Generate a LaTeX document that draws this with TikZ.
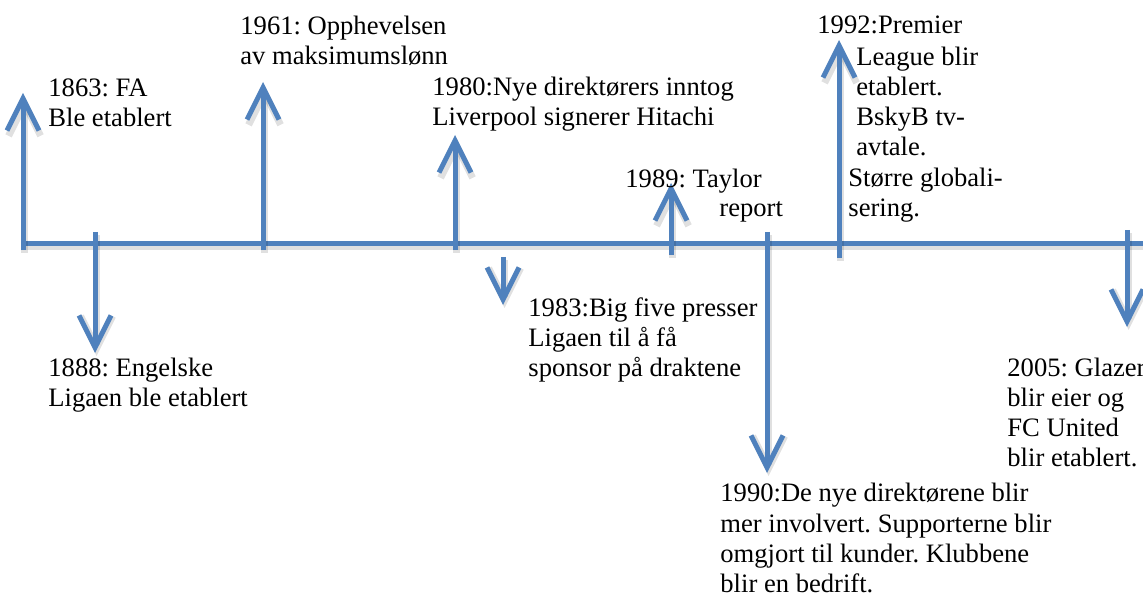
\documentclass[tikz,border=0pt]{standalone}
\usepackage{fontspec}
\setmainfont{Liberation Serif}
\usetikzlibrary{arrows.meta}
\definecolor{tlblue}{HTML}{4F81BD}
\newcommand{\tllines}[1]{\begin{tabular}[t]{@{}l@{}}#1\end{tabular}}
\frenchspacing
\begin{document}
\begin{tikzpicture}[x=0.5pt,y=-0.5pt,
  tlline/.style={draw=tlblue, line width=2.5pt,
    preaction={draw=black, opacity=0.12, line width=3.5pt, transform canvas={xshift=0.8pt,yshift=-1.5pt}}},
  tlarrow/.style={tlline, -{Straight Barb[length=16pt,width=16pt]}},
  lbl/.style={anchor=base west, inner sep=0pt, font=\fontsize{13.3}{15}\selectfont\frenchspacing}]
\useasboundingbox (0,0) rectangle (1143,597);
% timeline coordinates
\coordinate (ml) at (21,244);
\coordinate (mr) at (1160,244);
\coordinate (a1s) at (23,250);   \coordinate (a1e) at (23,93);
\coordinate (a2s) at (95,232);   \coordinate (a2e) at (95,353);
\coordinate (a3s) at (263,250);  \coordinate (a3e) at (263,82);
\coordinate (a4s) at (455,250);  \coordinate (a4e) at (455,135);
\coordinate (a5s) at (503,257);  \coordinate (a5e) at (503,305);
\coordinate (a6s) at (671,255);  \coordinate (a6e) at (671,183);
\coordinate (a7s) at (767,232);  \coordinate (a7e) at (767,473);
\coordinate (a8s) at (839,258);  \coordinate (a8e) at (839,40);
\coordinate (a9s) at (1127,230); \coordinate (a9e) at (1127,327);
% main line
\draw[tlline] (ml) -- (mr);
% arrows
\foreach \i in {1,...,9} { \draw[tlarrow] (a\i s) -- (a\i e); }
% labels
\node[lbl] (t1863) at (48,97) {\tllines{1863: FA\\Ble etablert}};
\node[lbl] (t1888) at (48,377) {\tllines{1888: Engelske\\Ligaen ble etablert}};
\node[lbl] (t1961) at (240,35) {\tllines{1961: Opphevelsen\\av maksimumslønn}};
\node[lbl] (t1980) at (432,96) {\tllines{1980:Nye direktørers inntog\\Liverpool signerer Hitachi}};
\node[lbl] (t1989a) at (625,188) {1989: Taylor};
\node[lbl] (t1989b) at (719,217) {report};
\node[lbl] (t1983) at (528,317) {\tllines{1983:Big five presser\\Ligaen til å få\\sponsor på draktene}};
\node[lbl] (t1990) at (720,502) {\tllines{1990:De nye direktørene blir\\mer involvert. Supporterne blir\\omgjort til kunder. Klubbene\\blir en bedrift.}};
\node[lbl] (t1992a) at (817,34) {1992:Premier};
\node[lbl] (t1992b) at (856,66) {\tllines{League blir\\etablert.\\BskyB tv-\\avtale.}};
\node[lbl] (t1992c) at (848,187) {\tllines{Større globali-\\sering.}};
\node[lbl] (t2005) at (1007,377) {\tllines{2005: Glazer\\blir eier og\\FC United\\blir etablert.}};
\end{tikzpicture}
\end{document}
